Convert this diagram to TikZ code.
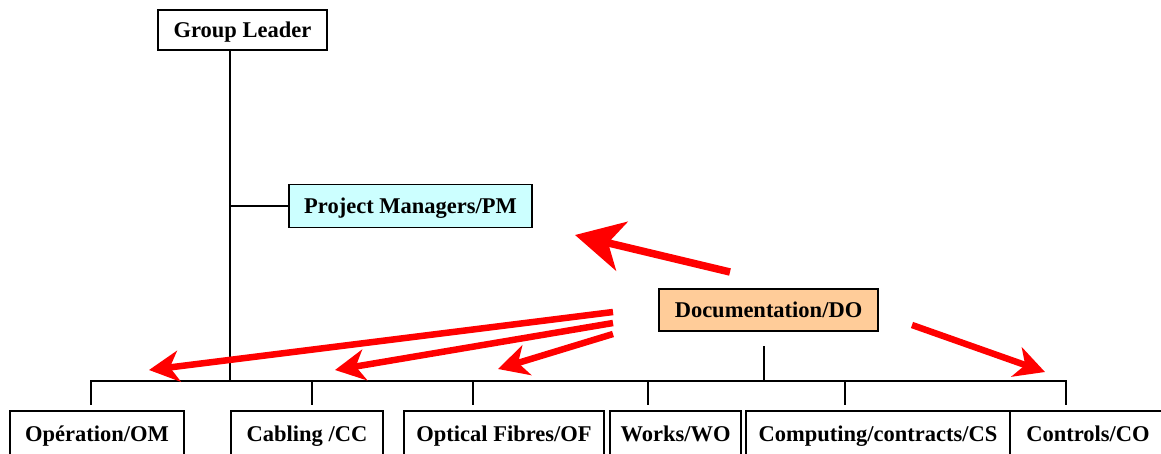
\documentclass[tikz,border=0pt]{standalone}
\usepackage{fontspec}
\setmainfont{Liberation Serif}
\usetikzlibrary{arrows.meta}
\definecolor{pmcyan}{HTML}{CCFFFF}
\definecolor{docorange}{HTML}{FFCC99}
\begin{document}
\begin{tikzpicture}[x=1pt,y=-1pt,
  box/.style={draw=black,line width=1.8pt,rectangle,inner sep=0pt,
    text height=15pt,text depth=4pt,
    font=\fontsize{22.5}{26}\selectfont\bfseries},
  topbox/.style={box,text height=17pt,text depth=2pt},
  conn/.style={draw=black,line width=1.6pt},
  redarrow/.style={draw=red,line width=6.5pt,-{Stealth[length=30pt,width=31pt,inset=9pt]}},
  bigarrow/.style={draw=red,line width=7.5pt,-{Stealth[length=48pt,width=50pt,inset=14pt]}}]
\useasboundingbox (0,0) rectangle (1161,453);
% top nodes
\node[topbox,minimum width=169pt,minimum height=40pt] (gl) at (242.5,30) {Group Leader};
\node[topbox,fill=pmcyan,minimum width=243pt,minimum height=43pt] (pm) at (410.5,206) {Project Managers/PM};
\node[topbox,fill=docorange,minimum width=219pt,minimum height=42pt] (doc) at (768.5,310) {Documentation/DO};
% bottom nodes
\node[box,minimum width=174pt,minimum height=50pt] (om) at (97,436) {Op\'eration/OM};
\node[box,minimum width=152pt,minimum height=50pt] (cc) at (307,436) {Cabling /CC};
\node[box,minimum width=200pt,minimum height=50pt] (of) at (504,436) {Optical Fibres/OF};
\node[box,minimum width=131pt,minimum height=50pt] (wo) at (675.5,436) {Works/WO};
\node[box,minimum width=264pt,minimum height=50pt] (cs) at (878,436) {Computing/contracts/CS};
\node[box,minimum width=156pt,minimum height=50pt] (co) at (1088,436) {Controls/CO};
% bus coordinates
\coordinate (glb) at (230,381);
\coordinate (bl) at (91,381);
\coordinate (br) at (1066,381);
\coordinate (dtop) at (764,346);
\coordinate (dbus) at (764,381);
\foreach \n/\x in {d1/91,d2/312,d3/473,d4/648,d5/845,d6/1066}{
  \coordinate (\n a) at (\x,381);
  \coordinate (\n b) at (\x,405);
}
% connectors
\draw[conn] (gl.south -| glb) -- (glb);
\draw[conn] (pm.west -| glb) -- (pm.west);
\draw[conn] (dtop) -- (dbus);
\draw[conn,line cap=rect] (bl) -- (br);
\foreach \n in {d1,d2,d3,d4,d5,d6}{
  \draw[conn] (\n a) -- (\n b);
}
% red arrows
\coordinate (pa) at (730,272);
\coordinate (pt) at (575,235);
\draw[bigarrow] (pa) -- (pt);
\coordinate (a1) at (613,312);
\coordinate (t1) at (149,370);
\coordinate (a2) at (613,323);
\coordinate (t2) at (335,370);
\coordinate (a3) at (613,334);
\coordinate (t3) at (498,369);
\coordinate (a5) at (912,325);
\coordinate (t5) at (1045,372);
\draw[redarrow] (a1) -- (t1);
\draw[redarrow] (a2) -- (t2);
\draw[redarrow] (a3) -- (t3);
\draw[redarrow] (a5) -- (t5);
\end{tikzpicture}
\end{document}
